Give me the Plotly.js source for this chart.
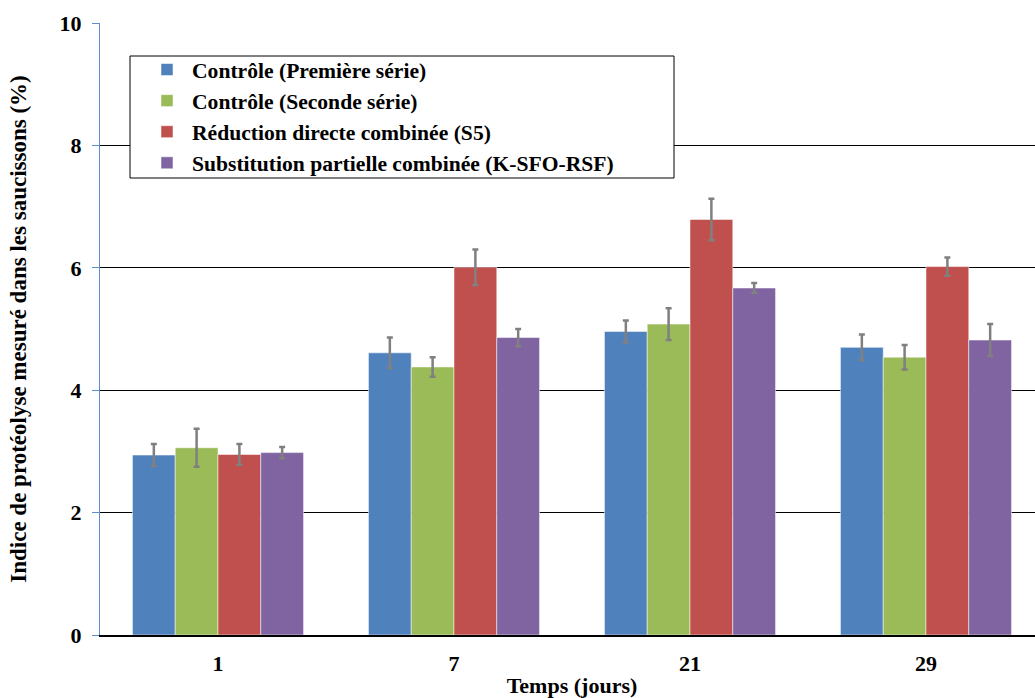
<!DOCTYPE html>
<html>
<head>
<meta charset="utf-8">
<script src="https://cdn.plot.ly/plotly-3.0.1.min.js"></script>
<style>
html,body{margin:0;padding:0;overflow:hidden;background:#fff;}
#chart{width:1044px;height:698px;}
</style>
</head>
<body>
<div id="chart"></div>
<script>
const categories = ['1', '7', '21', '29'];
const seriesNames = [
  'Contrôle (Première série)',
  'Contrôle (Seconde série)',
  'Réduction directe combinée (S5)',
  'Substitution partielle combinée (K-SFO-RSF)'
];
const controle1 = [2.94, 4.61, 4.96, 4.70];
const controle1Err = [0.18, 0.25, 0.18, 0.21];
const controle2 = [3.06, 4.38, 5.08, 4.54];
const controle2Err = [0.31, 0.16, 0.26, 0.20];
const reductionS5 = [2.95, 6.01, 6.79, 6.02];
const reductionS5Err = [0.17, 0.29, 0.34, 0.15];
const substitution = [2.98, 4.86, 5.67, 4.82];
const substitutionErr = [0.09, 0.14, 0.08, 0.26];
const colors = ['#4F81BD', '#9BBB59', '#C0504D', '#8064A2'];

const values = [controle1, controle2, reductionS5, substitution];
const errors = [controle1Err, controle2Err, reductionS5Err, substitutionErr];
const serif = 'Liberation Serif, Times New Roman, serif';

const traces = values.map((v, i) => ({
  type: 'bar',
  name: seriesNames[i],
  x: categories,
  y: v,
  legendgroup: 'g' + i,
  marker: {color: colors[i], line: {color: 'rgba(255,255,255,0.5)', width: 1}},
  error_y: {type: 'data', array: errors[i], visible: true, color: '#808080', thickness: 2.5, width: 3}
}));

// plot area geometry (px) used to place the legend frame in paper coordinates
const L = 100, W = 944, T = 23, H = 612;
const px = v => (v - L) / W;
const py = v => (T + H - v) / H;

const layout = {
  width: 1044,
  height: 698,
  margin: {l: L, r: 1044 - L - W, t: T, b: 698 - T - H},
  paper_bgcolor: '#fff',
  plot_bgcolor: '#fff',
  barmode: 'group',
  bargap: 0.275,
  bargroupgap: 0,
  font: {family: serif, color: '#000', size: 22, weight: 700},
  xaxis: {
    type: 'category',
    range: [-0.5, 3.5],
    showline: true,
    linecolor: '#000',
    linewidth: 1.5,
    ticks: '',
    showgrid: false,
    tickfont: {family: serif, size: 22, weight: 700},
    ticklabelstandoff: 8,
    title: {text: 'Temps (jours)', font: {family: serif, size: 22, weight: 700}, standoff: 2}
  },
  yaxis: {
    range: [0, 10],
    tickvals: [0, 2, 4, 6, 8, 10],
    showline: true,
    linecolor: '#5B8FD0',
    linewidth: 1,
    ticks: 'outside',
    ticklen: 7,
    tickcolor: '#5B8FD0',
    showgrid: true,
    gridcolor: '#000',
    gridwidth: 1,
    zeroline: false,
    tickfont: {family: serif, size: 22, weight: 700},
    ticklabelstandoff: 6,
    title: {text: 'Indice de protéolyse mesuré dans les saucissons (%)', font: {family: serif, size: 23, weight: 700}, standoff: 26}
  },
  shapes: [{
    type: 'rect', xref: 'paper', yref: 'paper', layer: 'above',
    x0: px(130), x1: px(674), y0: py(178), y1: py(56),
    fillcolor: '#fff', line: {color: '#000', width: 1}
  }],
  legend: {
    x: px(130), y: py(49), xanchor: 'left', yanchor: 'top',
    bgcolor: 'rgba(0,0,0,0)', borderwidth: 0,
    font: {family: serif, size: 21.6, weight: 700},
    tracegroupgap: 0,
    indentation: 12,
    itemwidth: 40
  },
  showlegend: true
};

Plotly.newPlot('chart', traces, layout, {displayModeBar: false, staticPlot: true});
</script>
</body>
</html>
